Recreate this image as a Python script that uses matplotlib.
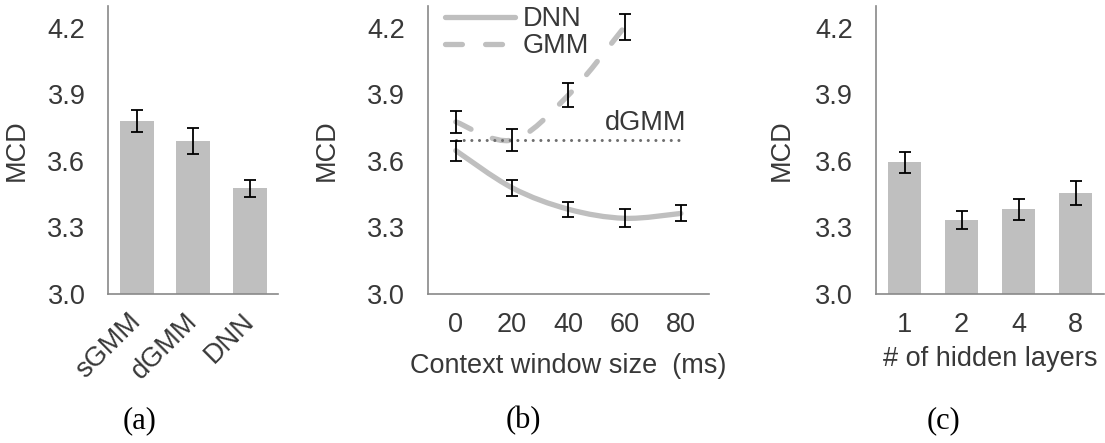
import matplotlib
matplotlib.use("Agg")
import matplotlib.pyplot as plt
from matplotlib.path import Path
from matplotlib.patches import PathPatch
from matplotlib.lines import Line2D
import numpy as np

plt.rcParams['font.family'] = ['Liberation Sans', 'DejaVu Sans']

# ---- data ----
a_cats = ["sGMM", "dGMM", "DNN"]
a_vals = [3.78, 3.69, 3.475]
a_errs = [0.05, 0.06, 0.04]

b_ticks = ["0", "20", "40", "60", "80"]
b_dnn = [3.646, 3.478, 3.381, 3.340, 3.362]
b_dnn_err = [0.045, 0.037, 0.033, 0.04, 0.036]
b_gmm = [3.776, 3.694, 3.897, 4.206]
b_gmm_err = [0.05, 0.05, 0.054, 0.06]
b_dgmm = 3.694

c_cats = ["1", "2", "4", "8"]
c_vals = [3.593, 3.332, 3.381, 3.453]
c_errs = [0.047, 0.04, 0.048, 0.055]

yticks = [3.0, 3.3, 3.6, 3.9, 4.2]
ylim = (3.0, 4.3)

# ---- style ----
W, H = 1105, 443
BAR = "#BFBFBF"
SPINE = "#898989"
TXT = "#383838"
FS = 19.5

fig = plt.figure(figsize=(W / 100, H / 100), dpi=100)

def make_ax(left_px, right_px):
    top_px, bot_px = 6, 293.5
    ax = fig.add_axes([left_px / W, 1 - bot_px / H, (right_px - left_px) / W, (bot_px - top_px) / H])
    ax.set_ylim(*ylim)
    ax.set_yticks(yticks)
    ax.set_yticklabels([f"{v:.1f}" for v in yticks])
    for s in ("top", "right"):
        ax.spines[s].set_visible(False)
    for s in ("left", "bottom"):
        ax.spines[s].set_color(SPINE)
        ax.spines[s].set_linewidth(1.2)
    ax.tick_params(axis="both", length=0, labelsize=FS, labelcolor=TXT)
    ax.tick_params(axis="y", pad=16.5)
    ax.tick_params(axis="x", pad=13)
    ax.set_ylabel("MCD", fontsize=FS, color=TXT)
    return ax

def smooth_path(xs, ys):
    """Smoothed (Catmull-Rom style) Bezier path through the given data points."""
    pts = np.column_stack([xs, ys]).astype(float)
    n = len(pts)
    verts = [pts[0]]
    codes = [Path.MOVETO]
    for i in range(n - 1):
        p0 = pts[max(i - 1, 0)]
        p1 = pts[i]
        p2 = pts[i + 1]
        p3 = pts[min(i + 2, n - 1)]
        c1 = p1 + (p2 - p0) / 6.0
        c2 = p2 - (p3 - p1) / 6.0
        verts += [c1, c2, p2]
        codes += [Path.CURVE4] * 3
    return Path(verts, codes)

ebkw = dict(fmt="none", ecolor="black", elinewidth=1.3, capsize=4.5, capthick=1.3, zorder=5)

# (a)
axa = make_ax(108.3, 278.3)
xa = np.arange(len(a_cats))
axa.bar(xa, a_vals, width=0.6, color=BAR, zorder=2)
axa.errorbar(xa, a_vals, yerr=a_errs, **ebkw)
axa.set_xlim(-0.5, len(a_cats) - 0.5)
axa.set_xticks(xa)
axa.set_xticklabels(a_cats, rotation=45, ha="right", va="center", rotation_mode="anchor")
axa.tick_params(axis="x", pad=17)
axa.yaxis.set_label_coords(-0.46, 0.5)

# (b)
axb = make_ax(427.7, 709)
xb = np.arange(len(b_ticks))
LW = 3.8
GMM_DASH = (0, (3.2, 4.4))
axb.add_patch(PathPatch(smooth_path(xb, b_dnn), fill=False, edgecolor=BAR, lw=LW,
                        capstyle="round", joinstyle="round", zorder=3))
axb.add_patch(PathPatch(smooth_path(xb[:len(b_gmm)], b_gmm), fill=False, edgecolor=BAR, lw=LW,
                        linestyle=GMM_DASH, capstyle="round", zorder=3))
axb.errorbar(xb, b_dnn, yerr=b_dnn_err, **ebkw)
axb.errorbar(xb[:len(b_gmm)], b_gmm, yerr=b_gmm_err, **ebkw)
axb.plot([xb[0], xb[-1]], [b_dgmm, b_dgmm], color="#6E6E6E", lw=2.2,
         linestyle=(0, (0.01, 2.5)), dash_capstyle="round", zorder=4)
axb.text(2.65, 3.773, "dGMM", fontsize=FS, color=TXT, ha="left", va="center")
axb.set_xlim(-0.5, len(b_ticks) - 0.5)
axb.set_xticks(xb)
axb.set_xticklabels(b_ticks)
axb.set_xlabel("Context window size  (ms)", fontsize=FS, color=TXT, labelpad=11)
axb.yaxis.set_label_coords(-0.312, 0.5)
handles = [Line2D([], [], color=BAR, lw=LW, solid_capstyle="round"),
           Line2D([], [], color=BAR, lw=LW, linestyle=GMM_DASH, dash_capstyle="round")]
leg = axb.legend(handles, ["DNN", "GMM"], loc="upper left", bbox_to_anchor=(0.06, 1.0),
                 frameon=False, fontsize=FS, handlelength=2.6, handletextpad=0.3,
                 labelspacing=0.05, borderpad=0, borderaxespad=0)
for t in leg.get_texts():
    t.set_color(TXT)

# (c)
axc = make_ax(876, 1104)
xc = np.arange(len(c_cats))
axc.bar(xc, c_vals, width=0.59, color=BAR, zorder=2)
axc.errorbar(xc, c_vals, yerr=c_errs, **ebkw)
axc.set_xlim(-0.5, len(c_cats) - 0.5)
axc.set_xticks(xc)
axc.set_xticklabels(c_cats)
axc.set_xlabel("# of hidden layers", fontsize=FS, color=TXT, labelpad=6)
axc.yaxis.set_label_coords(-0.355, 0.5)

# panel labels
for x_px, lab in [(140, "(a)"), (523, "(b)"), (944, "(c)")]:
    fig.text(x_px / W, 1 - 421 / H, lab, fontsize=22, family="Liberation Serif",
             color="black", ha="center", va="center")

fig.savefig("out.png", dpi=100)
